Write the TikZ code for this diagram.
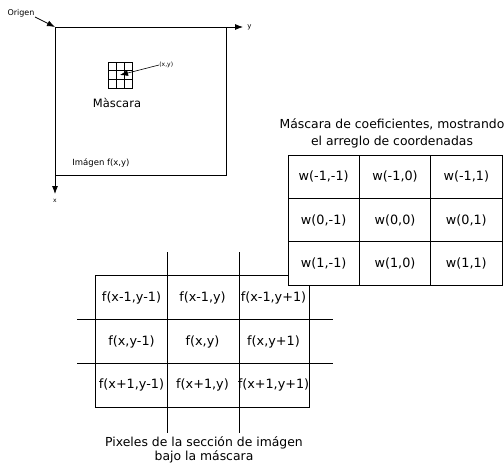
\documentclass[tikz,border=0pt]{standalone}
\usepackage{fontspec}
\setmainfont{DejaVu Sans}
\usetikzlibrary{arrows.meta,calc}
\begin{document}
\begin{tikzpicture}[x=1pt,y=-1pt,line width=0.8pt,
  wcell/.style={draw,minimum width=71.33pt,minimum height=43.33pt,inner sep=0pt,fill=white,font=\fontsize{12.8}{14}\selectfont},
  fcell/.style={minimum width=71pt,minimum height=43.67pt,inner sep=0pt,font=\fontsize{12.8}{14}\selectfont},
  tip/.style={-{Latex[length=8pt,width=6pt]}},
  small/.style={inner sep=0pt,font=\fontsize{6}{7}\selectfont}
]
\useasboundingbox (0,0) rectangle (504,469);
% top figure
\coordinate (O) at (55,27);
\coordinate (yend) at (243,27);
\coordinate (xend) at (55,194);
\draw (O) rectangle (226,175);
\draw[tip] (O) -- (yend);
\draw[tip] (O) -- (xend);
\node[small,anchor=west,font=\fontsize{7}{8}\selectfont] (ylab) at (247,27) {y};
\node[small] (xlab) at (55,201) {x};
\node[inner sep=0pt,font=\fontsize{8}{9}\selectfont] (origen) at (21,13) {Origen};
\draw[tip] (35,17) -- (O);
\node[draw,minimum width=24pt,minimum height=26pt,inner sep=0pt] (mask) at (120,75) {};
\draw (116,62) -- (116,88) (124,62) -- (124,88) (108,70.7) -- (132,70.7) (108,79.3) -- (132,79.3);
\node[small,anchor=west] (xy) at (159,65) {(x,y)};
\draw[tip,line width=0.6pt] (xy.west) -- (mask.center);
\node[inner sep=0pt,font=\fontsize{11.5}{13}\selectfont] (mascara) at (117,103) {Màscara};
\node[inner sep=0pt,anchor=west,font=\fontsize{8.5}{10}\selectfont] (imagen) at (72,163) {Imágen f(x,y)};
% f table
\foreach \r/\ry in {1/297.8,2/341.5,3/385.2}{
  \foreach \c/\cx in {1/131.5,2/202.5,3/273.5}{
    \coordinate (fc\r\c) at (\cx,\ry);
  }
}
\node[fcell] (f11) at (fc11) {f(x-1,y-1)};
\node[fcell] (f12) at (fc12) {f(x-1,y)};
\node[fcell] (f13) at (fc13) {f(x-1,y+1)};
\node[fcell] (f21) at (fc21) {f(x,y-1)};
\node[fcell] (f22) at (fc22) {f(x,y)};
\node[fcell] (f23) at (fc23) {f(x,y+1)};
\node[fcell] (f31) at (fc31) {f(x+1,y-1)};
\node[fcell] (f32) at (fc32) {f(x+1,y)};
\node[fcell] (f33) at (fc33) {f(x+1,y+1)};
\draw (f11.north west) rectangle (f33.south east);
\coordinate (v1t) at (167,252); \coordinate (v1b) at (167,433);
\coordinate (v2t) at (239,252); \coordinate (v2b) at (239,433);
\coordinate (h1l) at (77,319.5); \coordinate (h1r) at (333,319.5);
\coordinate (h2l) at (77,363); \coordinate (h2r) at (333,363);
\draw (v1t) -- (v1b) (v2t) -- (v2b) (h1l) -- (h1r) (h2l) -- (h2r);
\node[align=center,inner sep=0pt,font=\fontsize{12.4}{13.7}\selectfont] (fcap) at (204,450) {Pixeles de la sección de imágen\\bajo la máscara};
% w table
\node[wcell] (w11) at (323.7,176.7) {w(-1,-1)};
\node[wcell] (w12) at (395,176.7) {w(-1,0)};
\node[wcell] (w13) at (466.3,176.7) {w(-1,1)};
\node[wcell] (w21) at (323.7,220) {w(0,-1)};
\node[wcell] (w22) at (395,220) {w(0,0)};
\node[wcell] (w23) at (466.3,220) {w(0,1)};
\node[wcell] (w31) at (323.7,263.3) {w(1,-1)};
\node[wcell] (w32) at (395,263.3) {w(1,0)};
\node[wcell] (w33) at (466.3,263.3) {w(1,1)};
\node[align=center,inner sep=0pt,font=\fontsize{12.4}{16.7}\selectfont] (wcap) at (392,133.5) {Máscara de coeficientes, mostrando\\el arreglo de coordenadas};
\end{tikzpicture}
\end{document}
